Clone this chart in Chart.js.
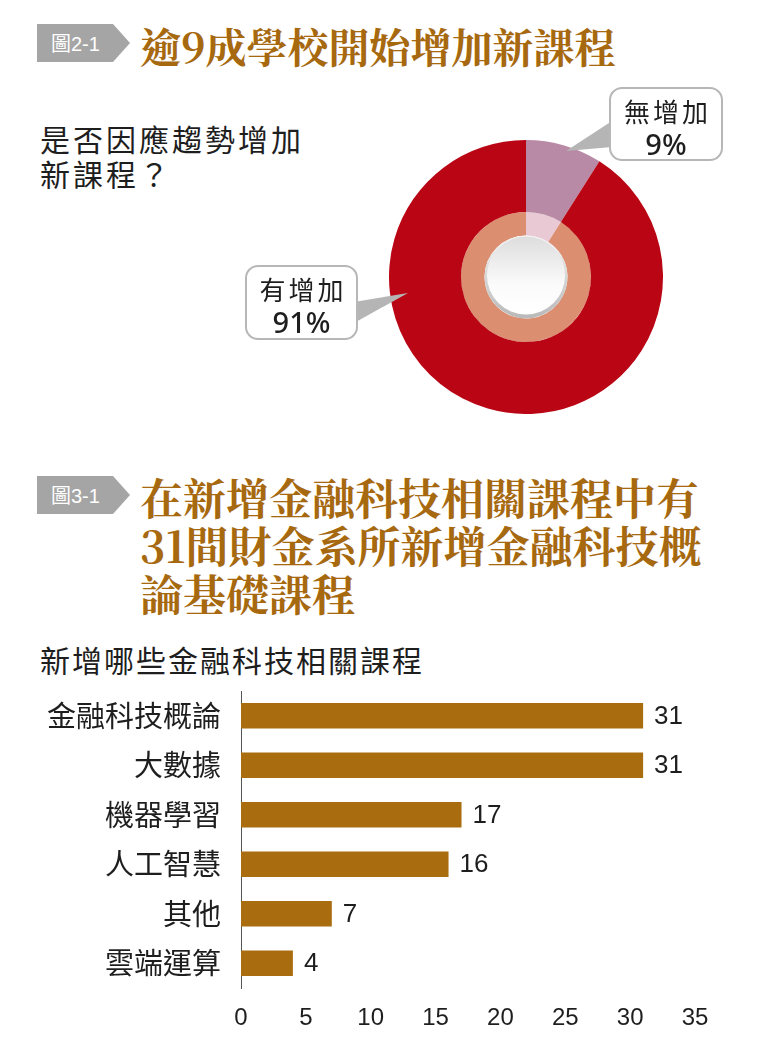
<!DOCTYPE html>
<html><head><meta charset="utf-8">
<script src="https://cdn.jsdelivr.net/npm/chart.js@4.4.0/dist/chart.umd.min.js"></script>
<style>
html,body{margin:0;padding:0;background:#fff;}
#page{position:relative;width:763px;height:1046px;overflow:hidden;font-family:"Noto Sans CJK TC","Noto Sans",sans-serif;color:#1e1e1e;}
.tag{position:absolute;left:37px;width:93px;height:38px;}
.tag svg{position:absolute;left:0;top:0;}
.tag span{position:absolute;left:14px;top:0;line-height:38px;color:#fff;font-size:20px;font-family:"Noto Sans CJK TC",sans-serif;}
.tag span b{font-weight:400;font-family:"Liberation Sans",Arial,sans-serif;}
.title{position:absolute;left:140px;color:#a7690f;font-family:"Noto Serif CJK TC","Noto Serif CJK SC","Noto Sans CJK TC",serif;font-weight:700;white-space:nowrap;}
.sub{position:absolute;left:40px;white-space:nowrap;}
.callout{position:absolute;background:#fff;border:2px solid #b7b7b7;border-radius:13px;text-align:center;box-sizing:border-box;padding-top:5px;z-index:3;}
.callout .l1{font-size:26px;line-height:33px;letter-spacing:3px;text-indent:3px;}
.callout .l2{font-size:29px;line-height:33px;font-family:"Noto Sans",sans-serif;font-weight:500;}
#ptr{position:absolute;left:0;top:0;z-index:2;}
canvas{position:absolute;}
</style></head>
<body><div id="page">
  <div class="tag" style="top:24px"><svg width="93" height="38"><polygon points="0,0 76,0 93,19 76,38 0,38" fill="#a5a5a5"/></svg><span>圖<b>2-1</b></span></div>
  <div class="title" id="t1" style="top:25px;font-size:41px;line-height:41px;"></div>
  <div class="sub" id="s1" style="top:121px;font-size:30px;line-height:35px;letter-spacing:3px;"></div>

  <canvas id="donut" width="274" height="274" style="left:389px;top:140px;z-index:1"></canvas>
  <svg id="ptr" width="763" height="460"></svg>
  <div class="callout" id="cA" style="left:609px;top:87px;width:114px;height:74px;"></div>
  <div class="callout" id="cB" style="left:245px;top:265px;width:113px;height:75px;"></div>

  <div class="tag" style="top:476px"><svg width="93" height="38"><polygon points="0,0 76,0 93,19 76,38 0,38" fill="#a5a5a5"/></svg><span>圖<b>3-1</b></span></div>
  <div class="title" id="t2" style="top:473px;font-size:43px;line-height:48px;"></div>
  <div class="sub" id="s2" style="top:641px;font-size:30px;line-height:36px;letter-spacing:2px;"></div>

  <canvas id="bar" width="763" height="366" style="left:0;top:680px;"></canvas>
</div>
<script>
// ---- text ----
const title1 = '逾9成學校開始增加新課程';
const subtitle1 = ['是否因應趨勢增加', '新課程？'];
const title2 = ['在新增金融科技相關課程中有', '31間財金系所新增金融科技概', '論基礎課程'];
const subtitle2 = '新增哪些金融科技相關課程';

// ---- doughnut data ----
const donutLabels = ['無增加', '有增加'];
const donutValues = [9, 91];

// ---- bar data ----
const barCategories = ['金融科技概論', '大數據', '機器學習', '人工智慧', '其他', '雲端運算'];
const barValues = [31, 31, 17, 16, 7, 4];
const xTickMin = 0;
const xTickMax = 35;
const xTickStep = 5;

document.getElementById('t1').textContent = title1;
document.getElementById('s1').innerHTML = subtitle1.join('<br>');
document.getElementById('t2').innerHTML = title2.join('<br>');
document.getElementById('s2').textContent = subtitle2;

function fillCallout(id, idx){
  const el = document.getElementById(id);
  const a = document.createElement('div'); a.className='l1'; a.textContent = donutLabels[idx];
  const b = document.createElement('div'); b.className='l2'; b.textContent = donutValues[idx] + '%';
  el.appendChild(a); el.appendChild(b);
}
fillCallout('cA', 0);
fillCallout('cB', 1);

// pointers of callouts
const svgNS = 'http://www.w3.org/2000/svg';
[['612,121 566,151 612,147'], ['354,302 408,293 354,323']].forEach(p=>{
  const poly = document.createElementNS(svgNS,'polygon');
  poly.setAttribute('points', p[0]); poly.setAttribute('fill', '#b5b5b5');
  document.getElementById('ptr').appendChild(poly);
});

// ---- doughnut ----
const centerPlugin = {
  id: 'centerButton',
  afterDatasetsDraw(chart){
    const arc = chart.getDatasetMeta(1).data[0];
    const {x, y, innerRadius} = arc.getProps(['x','y','innerRadius'], true);
    const ctx = chart.ctx;
    ctx.save();
    let g = ctx.createLinearGradient(0, y - innerRadius, 0, y + innerRadius);
    g.addColorStop(0, '#f4f4f4'); g.addColorStop(1, '#b9b9b9');
    ctx.beginPath(); ctx.arc(x, y, innerRadius, 0, Math.PI*2); ctx.fillStyle = g; ctx.fill();
    const r2 = innerRadius - 2.5;
    g = ctx.createLinearGradient(0, y - r2, 0, y + r2);
    g.addColorStop(0, '#dedede'); g.addColorStop(0.6, '#fbfbfb'); g.addColorStop(1, '#ffffff');
    ctx.beginPath(); ctx.arc(x, y - 1.5, r2, 0, Math.PI*2); ctx.fillStyle = g; ctx.fill();
    ctx.restore();
  }
};

new Chart(document.getElementById('donut'), {
  type: 'doughnut',
  data: {
    labels: donutLabels,
    datasets: [
      { data: donutValues, backgroundColor: ['#b98aa5', '#b90514'], borderWidth: 0, weight: 72 },
      { data: donutValues, backgroundColor: ['#e9c9d4', '#dc8e70'], borderWidth: 0, weight: 23.5 }
    ]
  },
  options: {
    responsive: false, animation: false,
    cutout: '30.3%', hoverOffset: 0, offset: 0,
    layout: { padding: 0 },
    plugins: { legend: { display: false }, tooltip: { enabled: false } },
    events: []
  },
  plugins: [centerPlugin]
});

// ---- bar ----
const valueLabels = {
  id: 'valueLabels',
  afterDatasetsDraw(chart){
    const ctx = chart.ctx;
    const meta = chart.getDatasetMeta(0);
    ctx.save();
    ctx.font = '26px "Liberation Sans", Arial, sans-serif';
    ctx.fillStyle = '#1e1e1e';
    ctx.textBaseline = 'middle';
    ctx.textAlign = 'left';
    meta.data.forEach((bar, i) => {
      ctx.fillText(String(barValues[i]), bar.x + 11, bar.y + 1);
    });
    ctx.restore();
  }
};

new Chart(document.getElementById('bar'), {
  type: 'bar',
  data: {
    labels: barCategories,
    datasets: [{ data: barValues, backgroundColor: '#a96c0e', borderWidth: 0, barPercentage: 0.52, categoryPercentage: 1 }]
  },
  options: {
    indexAxis: 'y', responsive: false, animation: false, events: [],
    layout: { padding: { left: 0, right: 68, top: 11, bottom: 0 } },
    plugins: { legend: { display: false }, tooltip: { enabled: false } },
    scales: {
      x: {
        min: xTickMin, max: xTickMax,
        ticks: { stepSize: xTickStep, padding: 16, color: '#1e1e1e', font: { family: '"Liberation Sans", Arial, sans-serif', size: 24 } },
        grid: { display: false, drawTicks: false },
        border: { display: false },
        afterFit(s){ s.height = 58; s.paddingLeft = 0; s.paddingRight = 0; }
      },
      y: {
        ticks: { padding: 20, color: '#1e1e1e', font: { family: '"Noto Sans CJK TC", sans-serif', size: 29 } },
        grid: { display: false, drawTicks: false },
        border: { display: true, color: '#555', width: 1 },
        afterFit(s){ s.width = 241; s.paddingTop = 0; s.paddingBottom = 0; }
      }
    }
  },
  plugins: [valueLabels]
});
</script>
</body></html>
